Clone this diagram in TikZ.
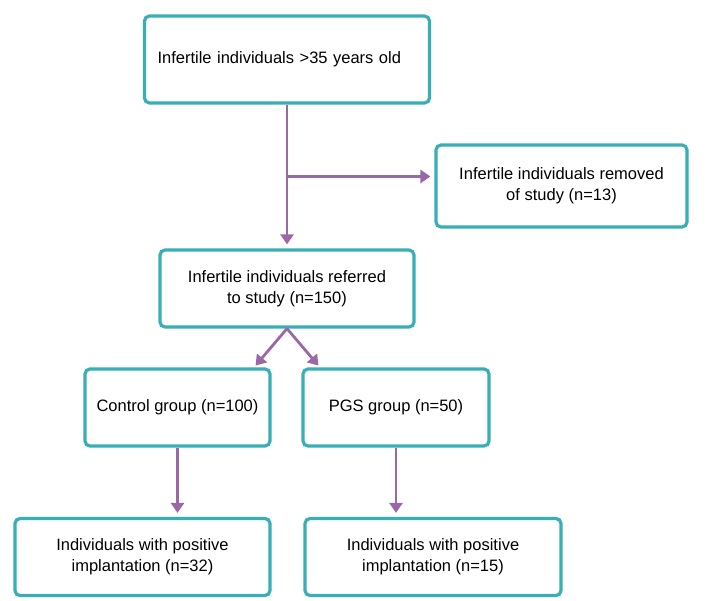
\documentclass[tikz,border=0pt]{standalone}
\usepackage{fontspec}
\setmainfont{Liberation Sans}
\usetikzlibrary{arrows.meta,calc}
\definecolor{boxteal}{RGB}{56,174,182}
\definecolor{arrowpurple}{RGB}{154,104,166}
\begin{document}
\begin{tikzpicture}[x=1pt,y=-1pt,
		box/.style={draw=boxteal,line width=3.2pt,rounded corners=5pt,inner sep=0pt,align=center,font=\fontsize{16.5}{21}\selectfont},
		link/.style={draw=arrowpurple,line width=2.8pt,->,>={Triangle[length=10pt,width=13pt]},shorten >=4pt}]
		\useasboundingbox (0,0) rectangle (708,601);
		\node[box,minimum width=285pt,minimum height=87pt,text width=259pt,inner xsep=13pt,align=left] (start) at (287,59.5) {Infertile individuals >35 years old};
		\node[box,minimum width=251pt,minimum height=82pt] (removed) at (561.5,186) {Infertile individuals removed\\of study (n=13)};
		\node[box,minimum width=254pt,minimum height=77pt] (referred) at (287,288.5) {Infertile individuals referred\\to study (n=150)};
		\node[box,minimum width=185pt,minimum height=77pt] (control) at (177.5,407.5) {Control group (n=100)};
		\node[box,minimum width=186pt,minimum height=77pt] (pgs) at (396,407.5) {PGS group (n=50)};
		\node[box,minimum width=255pt,minimum height=77pt] (posA) at (142.5,557) {Individuals with positive\\implantation (n=32)};
		\node[box,minimum width=256pt,minimum height=77pt] (posB) at (433,557) {Individuals with positive\\implantation (n=15)};
		% arrows
		\draw[link] (start.south) -- (referred.north);
		\coordinate (split) at ($(start.south)!0.5!(referred.north)$);
		\draw[link] (split) -- (split -| removed.west);
		\path (referred.south) ++(-34,40) coordinate (ctrltip) ++(68,0) coordinate (pgstip);
		\draw[link] (referred.south) -- (ctrltip);
		\draw[link] (referred.south) -- (pgstip);
		\foreach \grp/\res in {control/posA,pgs/posB}{
			\draw[link] (\grp.south) -- (\grp.south |- \res.north);
		}
	\end{tikzpicture}
\end{document}
